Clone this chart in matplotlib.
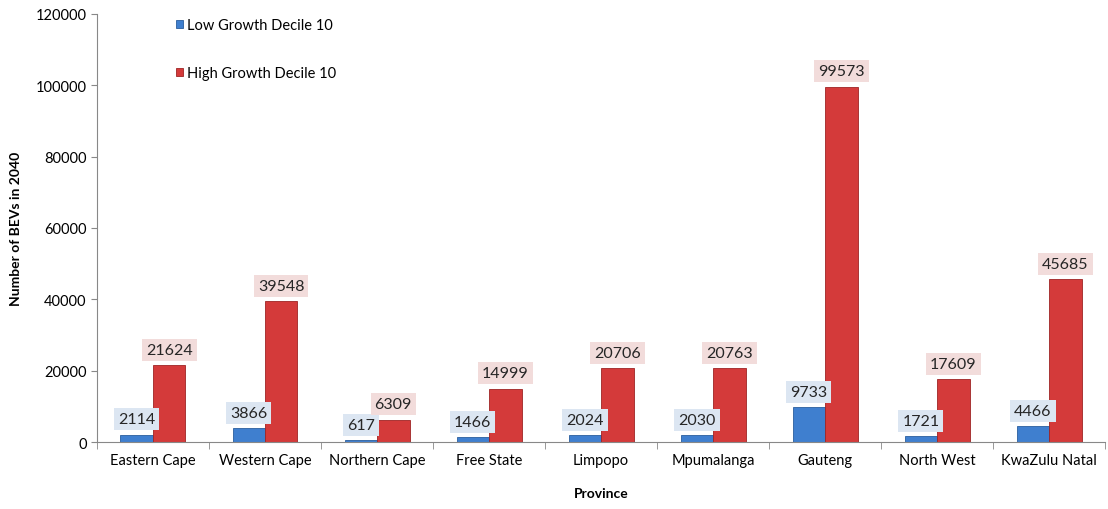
import matplotlib.pyplot as plt
import numpy as np

provinces = ["Eastern Cape", "Western Cape", "Northern Cape", "Free State", "Limpopo",
             "Mpumalanga", "Gauteng", "North West", "KwaZulu Natal"]
low_growth = [2114, 3866, 617, 1466, 2024, 2030, 9733, 1721, 4466]
high_growth = [21624, 39548, 6309, 14999, 20706, 20763, 99573, 17609, 45685]
y_ticks = [0, 20000, 40000, 60000, 80000, 100000, 120000]

plt.rcParams['font.family'] = ['Lato', 'DejaVu Sans']

fig = plt.figure(figsize=(11.08, 5.10), dpi=100)
ax = fig.add_axes([0.0875, 0.131, 0.91, 0.84])

x = np.arange(len(provinces))
w = 0.29
blue_bars = ax.bar(x - w / 2, low_growth, w, color='#3f7fcf', edgecolor='#2a5e9e',
                   linewidth=0.6, label='Low Growth Decile 10')
red_bars = ax.bar(x + w / 2, high_growth, w, color='#d43a3a', edgecolor='#9e2424',
                  linewidth=0.6, label='High Growth Decile 10')

for bars, vals, box in [(blue_bars, low_growth, '#dce6f2'), (red_bars, high_growth, '#f2dcdb')]:
    for b, v in zip(bars, vals):
        ax.annotate(str(v), (b.get_x() + b.get_width() / 2, v), xytext=(0, 6),
                    textcoords='offset points', ha='center', va='bottom', fontsize=11.5,
                    color='#262626',
                    bbox=dict(boxstyle='square,pad=0.25', facecolor=box, edgecolor='none'))

ax.set_xlim(-0.5, len(provinces) - 0.5)
ax.set_ylim(0, 120000)
ax.set_yticks(y_ticks)
ax.set_xticks(x)
ax.set_xticklabels(provinces, fontsize=10.5)
ax.set_xticks(np.arange(len(provinces) + 1) - 0.5, minor=True)
ax.tick_params(axis='x', which='major', length=0, pad=8)
ax.tick_params(axis='x', which='minor', length=5, color='#888888')
ax.tick_params(axis='y', length=4, color='#888888', labelsize=10.5)

for s in ['top', 'right']:
    ax.spines[s].set_visible(False)
for s in ['left', 'bottom']:
    ax.spines[s].set_color('#888888')

ax.set_ylabel('Number of BEVs in 2040', fontsize=10, fontweight='bold', labelpad=10)
ax.set_xlabel('Province', fontsize=10, fontweight='bold', labelpad=14)

ax.legend(loc='upper left', bbox_to_anchor=(0.065, 1.02), frameon=False, fontsize=10.5,
          handlelength=0.5, handleheight=0.5, handletextpad=0.3, labelspacing=2.3)

fig.savefig('out.png', dpi=100)
